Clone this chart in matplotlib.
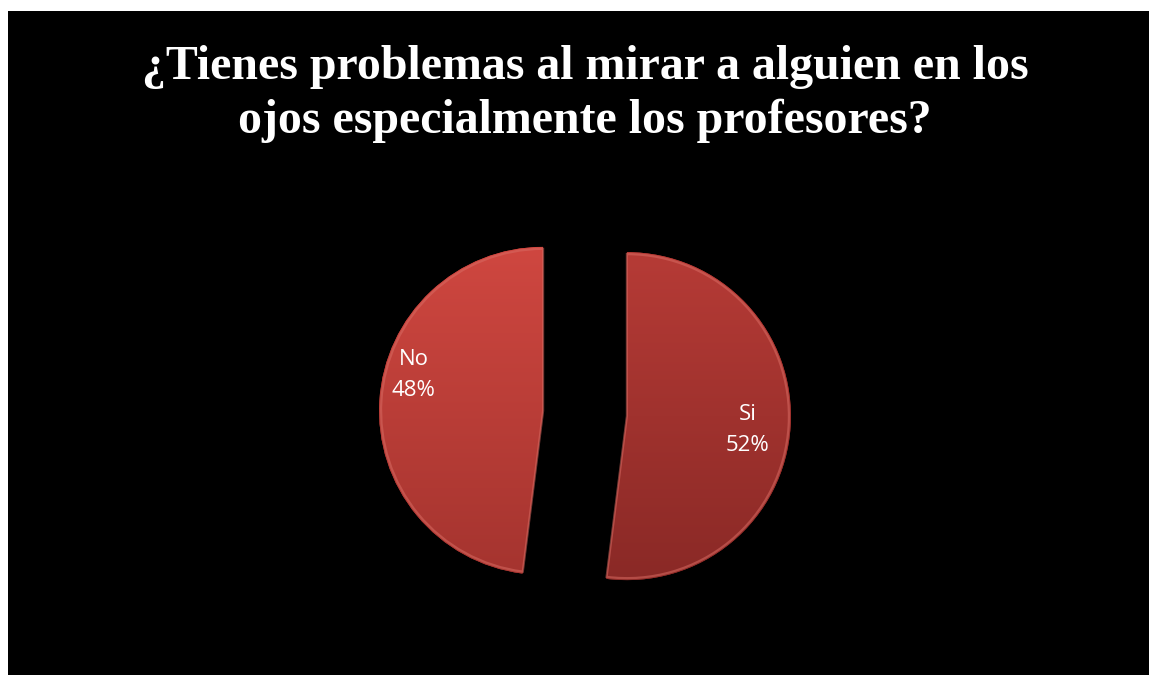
import numpy as np
import matplotlib
matplotlib.use("Agg")
import matplotlib.pyplot as plt
from matplotlib.colors import LinearSegmentedColormap
from matplotlib.patches import Rectangle, Wedge

# Data
categories = ["Si", "No"]
values = [52, 48]
pct_labels = ["52%", "48%"]
title = "¿Tienes problemas al mirar a alguien en los\nojos especialmente los profesores?"

W, H = 1149, 675
fig = plt.figure(figsize=(W / 100, H / 100), dpi=100, facecolor="white")
ax = fig.add_axes([0, 0, 1, 1])
ax.set_xlim(0, W)
ax.set_ylim(0, H)
ax.set_aspect("equal")
ax.axis("off")

# black slide background (white strip at left and top)
ax.add_patch(Rectangle((8, 0), W - 8, H - 11, facecolor="black", edgecolor="none", zorder=0))

# Title
fig.text(585 / W, 1 - 94 / H, title, ha="center", va="center", color="white",
         fontsize=34.5, fontweight="bold", family="Liberation Serif", linespacing=1.3)

center = (585, H - 413.5)
radius = 164
explode = [42, 42]  # offset in data units (pixels)
base_colors = ["#a8342f", "#c23f3a"]
wedges, _ = ax.pie(values, radius=radius, center=center, startangle=90, counterclock=False,
                   explode=explode, colors=base_colors,
                   wedgeprops=dict(edgecolor="none", linewidth=0))
ax.set_xlim(0, W)
ax.set_ylim(0, H)

grad_cols = [("#b63b36", "#8a2926"), ("#cf4740", "#a5342f")]
inv = ax.transData.inverted()
for w, (c_top, c_bot) in zip(wedges, grad_cols):
    cmap = LinearSegmentedColormap.from_list("g", [c_bot, c_top])
    bb = w.get_path().get_extents(w.get_transform())
    (x0, y0), (x1, y1) = inv.transform([[bb.x0, bb.y0], [bb.x1, bb.y1]])
    grad = np.linspace(0, 1, 256).reshape(-1, 1)
    im = ax.imshow(grad, cmap=cmap, origin="lower", extent=[x0, x1, y0, y1],
                   aspect="auto", zorder=w.get_zorder() + 0.1)
    im.set_clip_path(w)
    # soft bevel rim
    ax.add_patch(Wedge(w.center, w.r - 2, w.theta1, w.theta2, facecolor="none",
                       edgecolor="#d86a62", linewidth=1.6, alpha=0.55,
                       zorder=w.get_zorder() + 0.2))
ax.set_xlim(0, W)
ax.set_ylim(0, H)

# labels (best-fit style placement inside each slice)
label_angles = [-6.5, 164.6]
label_dist = [0.74, 0.82]
for w, cat, pct, ang, d in zip(wedges, categories, pct_labels, label_angles, label_dist):
    cx, cy = w.center
    x = cx + d * radius * np.cos(np.radians(ang))
    y = cy + d * radius * np.sin(np.radians(ang))
    ax.text(x, y, f"{cat}\n{pct}", ha="center", va="center", color="white",
            fontsize=16, family="Open Sans", linespacing=1.6, zorder=10)

fig.savefig("out.png", dpi=100, facecolor="white")
